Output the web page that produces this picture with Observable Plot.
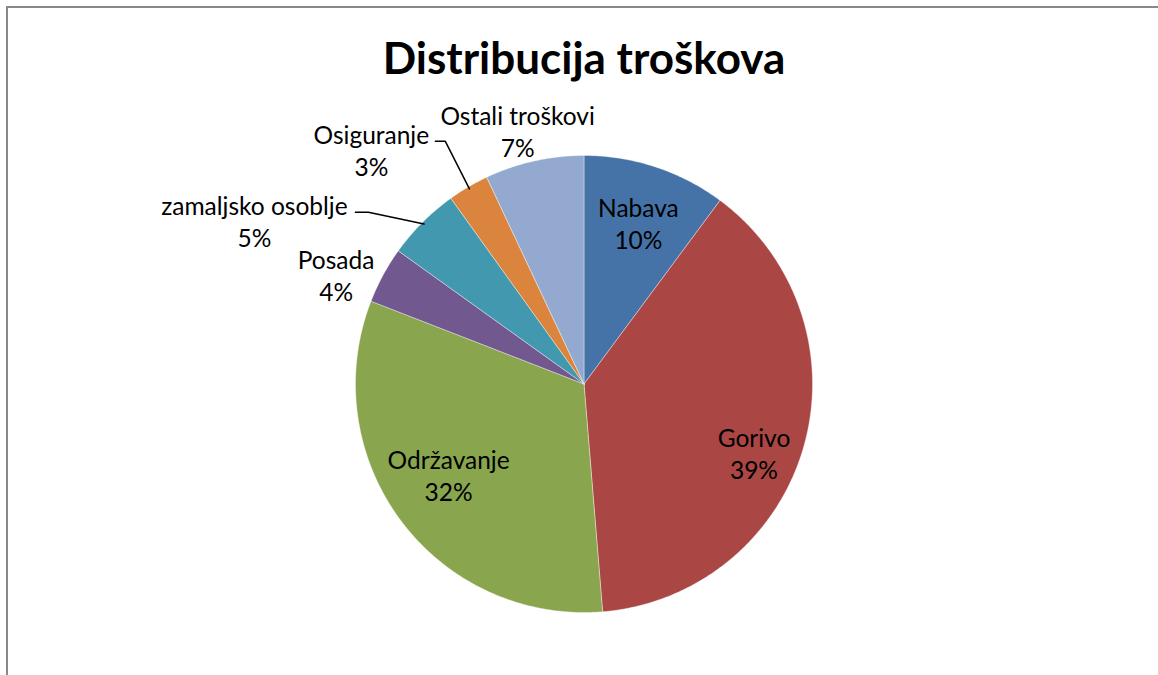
<!DOCTYPE html>
<html><head><meta charset="utf-8">
<script src="https://cdn.jsdelivr.net/npm/d3@7"></script>
<script src="https://cdn.jsdelivr.net/npm/@observablehq/plot@0.6"></script>
<style>
html,body{margin:0;padding:0;background:#fff;overflow:hidden;}
#wrap{position:relative;width:1158px;height:675px;overflow:hidden;}
#frame{position:absolute;left:6px;top:6px;width:1400px;height:1000px;border:2px solid #888;pointer-events:none;}
</style></head><body><div id="wrap"><div id="chart"></div><div id="frame"></div></div>
<script>
// ---- data ----
const title = "Distribucija troškova";
const categories = ["Nabava", "Gorivo", "Održavanje", "Posada", "zamaljsko osoblje", "Osiguranje", "Ostali troškovi"];
const values = [10.15, 38.55, 32.2, 4.0, 5.2, 2.9, 7.0];
const colors = ["#4572A7", "#AA4643", "#89A54E", "#71588F", "#4198AF", "#DB843D", "#93A9CF"];

// ---- layout ----
const W = 1158, H = 675, cx = 583.5, cy = 383.5, R = 228.5;
// label placement: radius factor and angular nudge (degrees) from slice mid-angle
const labelLayout = {
  "Nabava": {r: 0.744, da: 0.4},
  "Gorivo": {r: 0.803, da: 6.2},
  "Održavanje": {r: 0.714, da: 2.8},
  "Posada": {r: 1.186, da: -4.6},
  "zamaljsko osoblje": {r: 1.609, da: -18.7},
  "Osiguranje": {r: 1.385, da: -11.8},
  "Ostali troškovi": {r: 1.145, da: -2.1}
};
// leader lines: pixel offsets of start and elbow from the label anchor
const leaderLayout = {
  "zamaljsko osoblje": [[101, -8.8], [114, -8.8]],
  "Osiguranje": [[64, -8.3], [74, -8.3]]
};

const total = d3.sum(values);
const rad = d => d * Math.PI / 180;
let cum = 0;
const slices = categories.map((name, i) => {
  const a0 = cum / total * 360;
  cum += values[i];
  const a1 = cum / total * 360;
  return {name, value: values[i], a0, a1, mid: (a0 + a1) / 2, pct: Math.round(values[i] / total * 100)};
});

// polygon points for each slice (unit radius, y up, angle clockwise from top)
const polyPts = [];
for (const s of slices) {
  polyPts.push({name: s.name, x: 0, y: 0});
  const n = Math.max(2, Math.ceil((s.a1 - s.a0) / 0.5));
  for (let k = 0; k <= n; k++) {
    const a = rad(s.a0 + (s.a1 - s.a0) * k / n);
    polyPts.push({name: s.name, x: Math.sin(a), y: Math.cos(a)});
  }
  polyPts.push({name: s.name, x: 0, y: 0});
}

const labels = slices.map(s => {
  const L = labelLayout[s.name];
  const a = rad(s.mid + L.da);
  return {name: s.name, text: `${s.name}\n${s.pct}%`, x: L.r * Math.sin(a), y: L.r * Math.cos(a)};
});

const leaderPts = [];
for (const lb of labels) {
  const off = leaderLayout[lb.name];
  if (!off) continue;
  const s = slices.find(d => d.name === lb.name);
  for (const [dx, dy] of off) leaderPts.push({name: lb.name, x: lb.x + dx / R, y: lb.y - dy / R});
  leaderPts.push({name: lb.name, x: 0.99 * Math.sin(rad(s.mid)), y: 0.99 * Math.cos(rad(s.mid))});
}

const chart = Plot.plot({
  width: W, height: H,
  margin: 0,
  style: {background: "transparent"},
  x: {domain: [(0 - cx) / R, (W - cx) / R], range: [0, W], axis: null},
  y: {domain: [cy / R, (cy - H) / R], range: [0, H], axis: null},
  color: {domain: categories, range: colors},
  marks: [
    Plot.line(polyPts, {x: "x", y: "y", z: "name", fill: "name", stroke: "#ffffff", strokeWidth: 0.7, strokeOpacity: 0.55, curve: "linear-closed", strokeLinejoin: "round"}),
    Plot.line(leaderPts, {x: "x", y: "y", z: "name", stroke: "#000", strokeWidth: 1.5}),
    Plot.text(labels, {x: "x", y: "y", text: "text", fontFamily: "Lato", fontSize: 24.5, lineHeight: 1.3, fill: "#000", textAnchor: "middle", lineAnchor: "middle"}),
    Plot.text([title], {x: () => 0, y: () => (cy - 59) / R, text: d => d, fontFamily: "Lato", fontWeight: "bold", fontSize: 44, fill: "#000", textAnchor: "middle", lineAnchor: "middle"})
  ]
});
document.getElementById("chart").appendChild(chart);
</script>
</body></html>
